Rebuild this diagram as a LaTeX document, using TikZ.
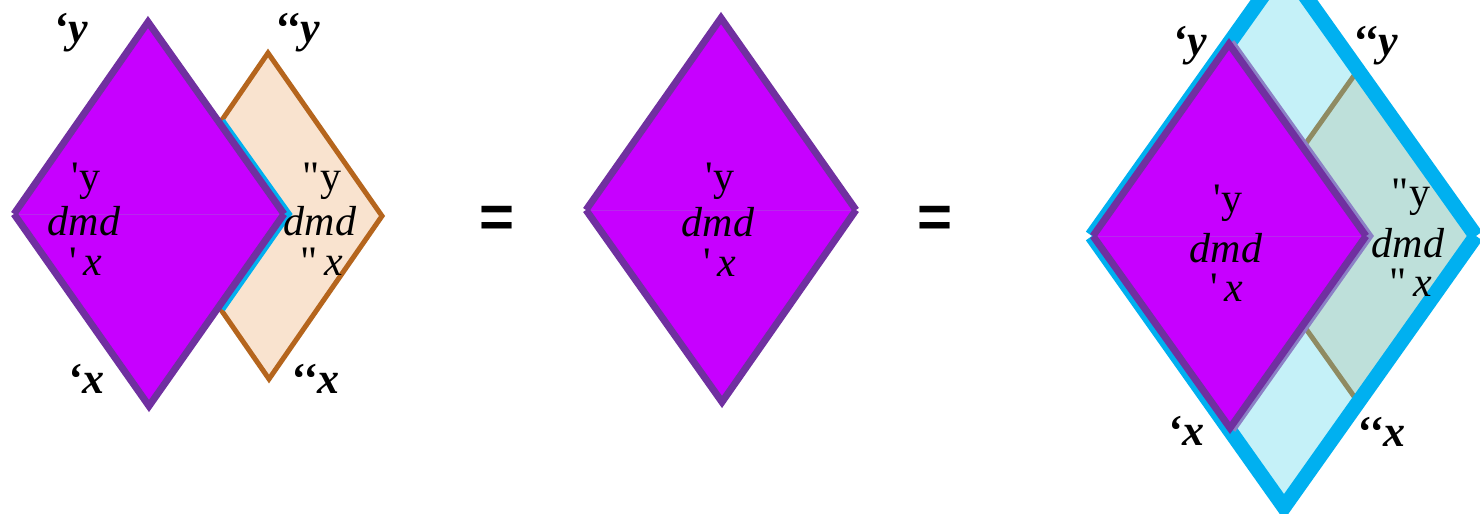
\documentclass[tikz,border=0pt]{standalone}
\usepackage{fontspec}
\setmainfont{Liberation Serif}
\newfontfamily\eqfont{Liberation Sans}
\definecolor{purpfill}{RGB}{199,0,255}
\definecolor{purpedge}{RGB}{112,48,160}
\definecolor{orfill}{RGB}{249,227,207}
\definecolor{oredge}{RGB}{181,101,29}
\definecolor{cyanedge}{RGB}{0,176,240}
\definecolor{cyanfill}{RGB}{197,241,248}
\definecolor{olfill}{RGB}{190,224,218}
\definecolor{oledge}{RGB}{143,139,98}
\definecolor{lavedge}{RGB}{140,128,198}
\definecolor{seamcol}{RGB}{184,40,236}
\pgfdeclareradialshading{vign}{\pgfpoint{0bp}{0bp}}{color(0bp)=(white); color(28bp)=(white); color(50bp)=(black!9)}
\newcommand\mypdiamond[4]{%
  \fill[purpfill] (#2) -- (#1) -- (#3) -- cycle;
  \fill[purpfill] (#2) -- (#4) -- (#3) -- cycle;
  \draw[seamline] (#2) -- (#3);
  \draw[pborder] (#2) -- (#1) -- (#3);
  \draw[pborder] (#2) -- (#4) -- (#3);
}
\tikzset{
  pborder/.style={draw=purpedge, line width=3.5pt, line cap=butt, line join=miter},
  seamline/.style={draw=seamcol, line width=0.4pt},
  intext/.style={font=\fontsize{21}{21}\selectfont, inner sep=0pt, anchor=base},
  outlbl/.style={font=\fontsize{22}{22}\selectfont\bfseries\itshape, inner sep=0pt, anchor=base},
  eqsign/.style={font=\eqfont\bfseries\fontsize{30}{30}\selectfont, inner sep=0pt, anchor=base},
}
\begin{document}
\begin{tikzpicture}[x=0.5pt,y=-0.5pt]
\useasboundingbox (0,0) rectangle (1480,514);
\shade[shading=vign] (-400,-400) rectangle (1700,700);

% ---------- left group ----------
\coordinate (oT) at (268,53);
\coordinate (oL) at (156,216);
\coordinate (oR) at (382,216);
\coordinate (oB) at (269,379);
\filldraw[fill=orfill, draw=oredge, line width=2.5pt, line join=miter] (oT) -- (oR) -- (oB) -- (oL) -- cycle;
\coordinate (c1a) at (219,123);
\coordinate (c1b) at (219,307);
\coordinate (aT) at (148,22);
\coordinate (aL) at (14,214);
\coordinate (aR) at (284,214);
\coordinate (aB) at (149,406);
\draw[cyanedge, line width=7pt, line cap=butt, line join=miter] (c1a) -- (aR) -- (c1b);
\mypdiamond{aT}{aL}{aR}{aB}

\node[intext] (ly1) at (86,190) {\textquotesingle y};
\node[intext] (ld1) at (84,235) {\textit{dmd}};
\node[intext] (lx1) at (86,275) {\textquotesingle\,\textit{x}};
\node[intext] (ly2) at (322,190) {\textquotedbl y};
\node[intext] (ld2) at (320,235) {\textit{dmd}};
\node[intext] (lx2) at (322,275) {\textquotedbl\,\textit{x}};

\node[outlbl] (oy1) at (71,42) {‘y};
\node[outlbl] (oy2) at (297,42) {‘‘y};
\node[outlbl] (ox1) at (86,393) {‘x};
\node[outlbl] (ox2) at (315,393) {‘‘x};

\node[eqsign] (eq1) at (497,237) {=};

% ---------- middle ----------
\coordinate (bT) at (721,18);
\coordinate (bL) at (586,210);
\coordinate (bR) at (856,210);
\coordinate (bB) at (722,402);
\mypdiamond{bT}{bL}{bR}{bB}
\node[intext] (my1) at (720,190) {\textquotesingle y};
\node[intext] (md1) at (718,236) {\textit{dmd}};
\node[intext] (mx1) at (720,276) {\textquotesingle\,\textit{x}};

\node[eqsign] (eq2) at (935,237) {=};

% ---------- right group ----------
\coordinate (gT) at (1284,-34);
\coordinate (gL) at (1092,236);
\coordinate (gR) at (1476,236);
\coordinate (gB) at (1284,507);
\fill[cyanfill] (gT) -- (gR) -- (gB) -- (gL) -- cycle;
\coordinate (vT) at (1358,70);
\coordinate (vL) at (1240,236);
\coordinate (vB) at (1358,402);
\fill[olfill] (vT) -- (gR) -- (vB) -- (vL) -- cycle;
\draw[oledge, line width=2.5pt, line join=miter] (vT) -- (vL) -- (vB);
\draw[cyanedge, line width=7.5pt, line cap=butt, line join=miter] (gL) -- (gT) -- (gR);
\draw[cyanedge, line width=7.5pt, line cap=butt, line join=miter] (gL) -- (gB) -- (gR);
\coordinate (cT) at (1229,44);
\coordinate (cL) at (1093,236);
\coordinate (cR) at (1366,236);
\coordinate (cB) at (1230,428);
\draw[lavedge, line width=6.5pt, line cap=butt, line join=miter] (cT) -- (cR) -- (cB);
\mypdiamond{cT}{cL}{cR}{cB}

\node[intext] (ry1) at (1228,212) {\textquotesingle y};
\node[intext] (rd1) at (1226,262) {\textit{dmd}};
\node[intext] (rx1) at (1227,301) {\textquotesingle\,\textit{x}};
\node[intext] (ry2) at (1411,206) {\textquotedbl y};
\node[intext] (rd2) at (1408,257) {\textit{dmd}};
\node[intext] (rx2) at (1411,296) {\textquotedbl\,\textit{x}};

\node[outlbl] (qy1) at (1190,55) {‘y};
\node[outlbl] (qy2) at (1375,55) {‘‘y};
\node[outlbl] (qx1) at (1186,445) {‘x};
\node[outlbl] (qx2) at (1381,446) {‘‘x};
\end{tikzpicture}
\end{document}
